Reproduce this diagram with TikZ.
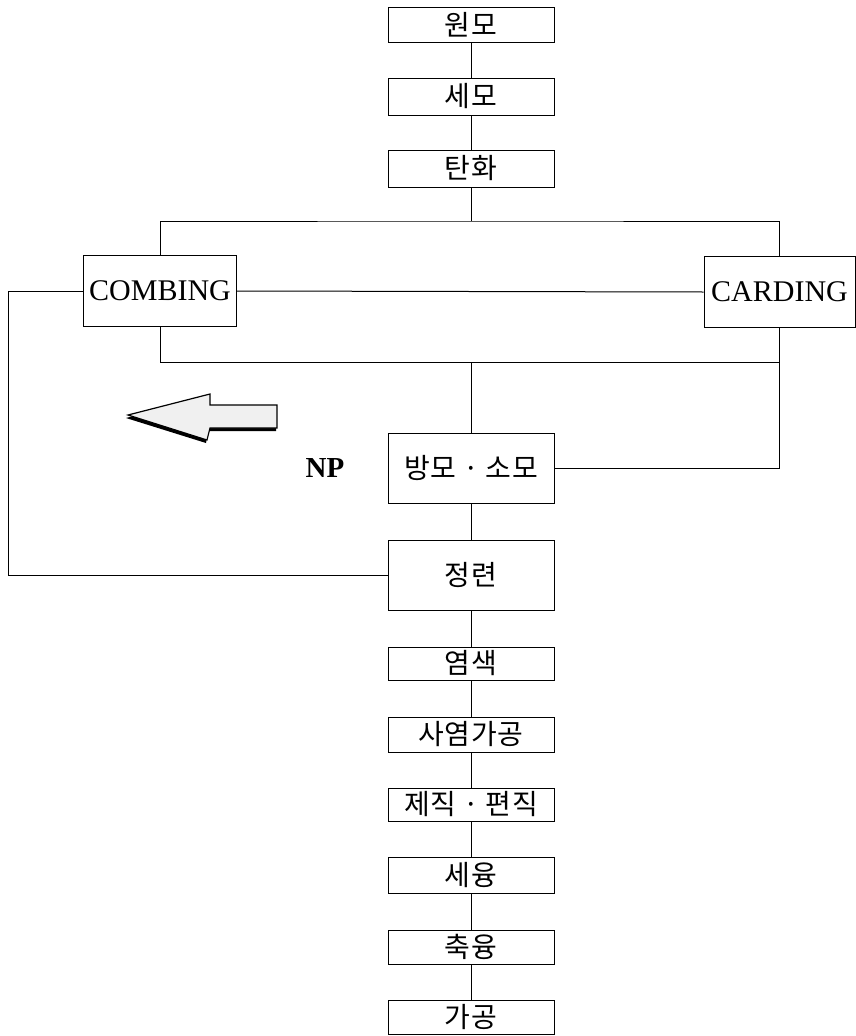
\documentclass[tikz,border=0pt]{standalone}
\usepackage{fontspec}
\setmainfont{Liberation Serif}
\newfontfamily\kr[LetterSpace=2]{Noto Sans CJK KR}
\usepackage{tikz}
\usetikzlibrary{positioning}

\begin{document}
\begin{tikzpicture}[
  x=1pt, y=-1pt,
  every path/.style={line width=1pt},
  box/.style={rectangle, draw, inner sep=0pt,
              minimum width=166pt, minimum height=35pt,
              font=\kr\fontsize{28}{30}\selectfont, align=center},
  tallbox/.style={box, minimum height=70pt},
  engbox/.style={rectangle, draw, inner sep=0pt,
                 minimum width=153pt, minimum height=71pt,
                 font=\fontsize{30}{32}\selectfont},
  lbl/.style={font=\bfseries\fontsize{29}{32}\selectfont}
]
\useasboundingbox (0,0) rectangle (856,1036);

%% ── TOP column: raw wool steps ───────────────────────────────────────
\node[box, minimum height=35pt] at (471,24.5)  (wonmo)  {원모};
\node[box, minimum height=37pt] at (471,96.5)  (semo)   {세모};
\node[box, minimum height=37pt] at (471,168.5) (tanhwa) {탄화};

%% ── SPLIT: combing / carding ─────────────────────────────────────────
\node[engbox] at (160,291)   (combing) {COMBING};
\node[engbox, minimum width=151pt] at (779.5,292) (carding) {CARDING};

%% ── SPINNING + NP label ──────────────────────────────────────────────
\node[tallbox] at (471,468) (bangmo) {방모 · 소모};
\node[lbl]     at (325,468) (np)     {NP};
\node[tallbox] at (471,575) (jeongryeon) {정련};

%% ── BOTTOM column: finishing steps ───────────────────────────────────
\node[box, minimum height=33pt] at (471,663.5) (yeomsaek) {염색};
\node[box, minimum height=35pt] at (471,734.5) (sayeom)   {사염가공};
\node[box, minimum height=33pt] at (471,804.5) (jejik)    {제직 · 편직};
\node[box, minimum height=36pt] at (471,875)   (seyung)   {세융};
\node[box, minimum height=34pt] at (471,947)   (chukyung) {축융};
\node[box, minimum height=34pt] at (471,1017)  (gagong)   {가공};

%% ── bus coordinates ──────────────────────────────────────────────────
\coordinate (topbus)  at (471,221);
\coordinate (lowbus)  at (471,362);
\coordinate (leftbus) at (8,291);

%% ── TOP column links ─────────────────────────────────────────────────
\draw (wonmo.south) -- (semo.north);
\draw (semo.south)  -- (tanhwa.north);
\draw (tanhwa.south) -- (topbus);
\draw (combing.north) |- (topbus) -| (carding.north);

%% ── COMBING / CARDING links ──────────────────────────────────────────
\draw (combing.east) -- (carding.west);
\draw (combing.south) |- (lowbus) -- (bangmo.north);
\draw (lowbus) -- (lowbus -| carding.south);
\draw (carding.south) |- (bangmo.east);
% return loop from combing to scouring
\draw (combing.west) -- (leftbus) |- (jeongryeon.west);

%% ── BOTTOM column links ──────────────────────────────────────────────
\draw (bangmo.south)     -- (jeongryeon.north);
\draw (jeongryeon.south) -- (yeomsaek.north);
\draw (yeomsaek.south)   -- (sayeom.north);
\draw (sayeom.south)     -- (jejik.north);
\draw (jejik.south)      -- (seyung.north);
\draw (seyung.south)     -- (chukyung.north);
\draw (chukyung.south)   -- (gagong.north);

%% ── shaded left arrow ────────────────────────────────────────────────
\fill[black] (126,418) -- (208,397) -- (208,408) -- (276,408) -- (276,431)
  -- (208,431) -- (206,443) -- cycle;
\draw[fill=gray!12, line width=1.2pt] (128,415) -- (210,394) -- (210,405)
  -- (277,405) -- (277,428) -- (210,428) -- (207,440) -- cycle;
\end{tikzpicture}
\end{document}
